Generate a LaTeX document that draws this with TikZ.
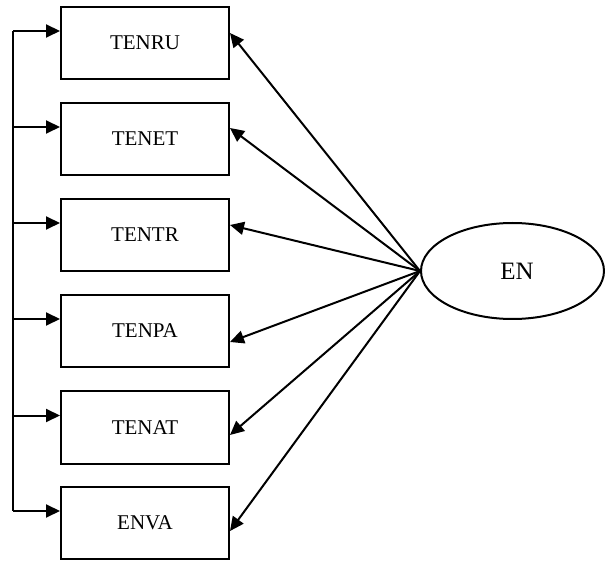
\documentclass[tikz,border=0pt]{standalone}
\usepackage{fontspec}
\setmainfont{Liberation Serif}
\usetikzlibrary{arrows.meta,shapes.geometric,calc}
\begin{document}
\begin{tikzpicture}[x=1pt,y=1pt,
  box/.style={draw,line width=2pt,minimum width=168pt,minimum height=72pt,inner sep=0pt,font=\fontsize{21}{24}\selectfont},
  lat/.style={draw,ellipse,line width=2pt,minimum width=183pt,minimum height=96pt,inner sep=0pt,font=\fontsize{25}{28}\selectfont},
  arr/.style={line width=2pt,-{Triangle[length=14pt,width=13pt]}},
  bus/.style={line width=2pt}]
\useasboundingbox (0,0) rectangle (605,560);
\node[box] (b1) at (145,517) {TENRU};
\node[box] (b2) at (145,421) {TENET};
\node[box] (b3) at (145,325) {TENTR};
\node[box] (b4) at (145,229) {TENPA};
\node[box] (b5) at (145,132.5) {TENAT};
\node[box] (b6) at (145,37) {ENVA};
\node[lat] (en) at (512.5,289) {};
\node[font=\fontsize{25}{28}\selectfont] (enl) at (517,289) {EN};
% left bus
\coordinate (bt) at (13,529);
\coordinate (bb) at (13,49);
\draw[bus] (bt) -- (bb);
\foreach \i in {1,...,6}{
  \coordinate (p\i) at ($(b\i.west)+(0,12)$);
  \draw[arr] (p\i -| bt) -- (p\i);
}
% loadings
\draw[arr] (en.west) -- ($(b1.east)+(0,10)$);
\draw[arr] (en.west) -- ($(b2.east)+(0,11)$);
\draw[arr] (en.west) -- ($(b3.east)+(0,10)$);
\draw[arr] (en.west) -- ($(b4.east)+(0,-11)$);
\draw[arr] (en.west) -- ($(b5.east)+(0,-7.5)$);
\draw[arr] (en.west) -- ($(b6.east)+(0,-8)$);
\end{tikzpicture}
\end{document}
